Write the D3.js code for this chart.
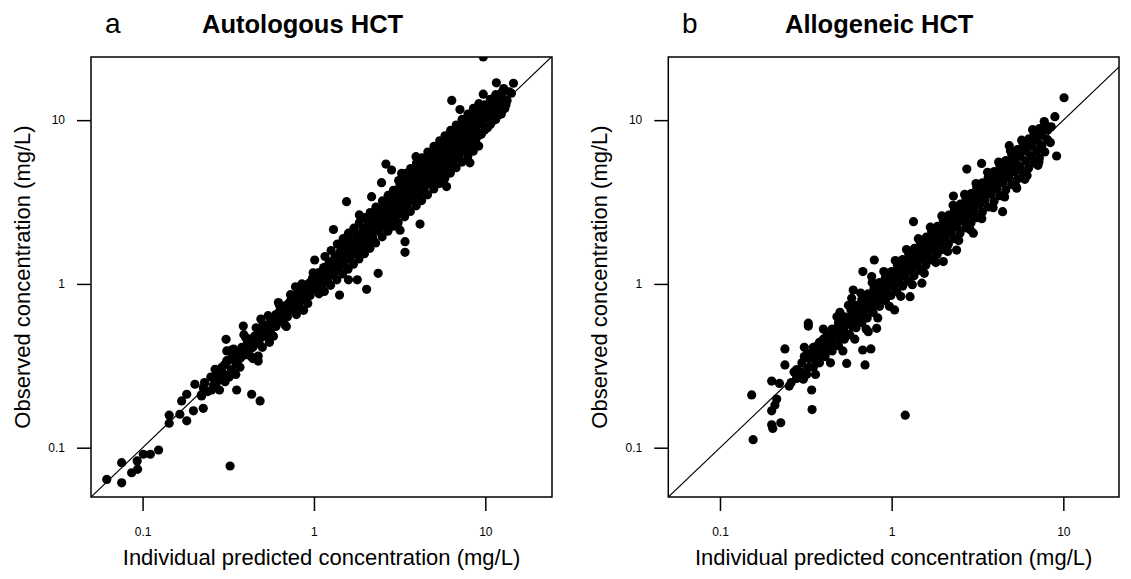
<!DOCTYPE html>
<html>
<head>
<meta charset="utf-8">
<script src="https://cdn.jsdelivr.net/npm/d3@7"></script>
<style>
  body { margin: 0; background: #fff; }
  svg { font-family: "Liberation Sans", Arial, Helvetica, sans-serif; }
</style>
</head>
<body>
<div id="chart"></div>
<script>
// ---- data: [individual predicted, observed] in mg/L ----
var autoBand = [
  [0.30,0.28],[0.30,0.32],[0.31,0.34],[0.33,0.30],[0.33,0.35],[0.34,0.37],
  [0.35,0.33],[0.36,0.38],[0.37,0.35],[0.38,0.36],[0.38,0.41],[0.39,0.39],
  [0.41,0.37],[0.41,0.44],[0.42,0.40],[0.43,0.46],[0.44,0.41],[0.45,0.48],
  [0.46,0.44],[0.48,0.43],[0.48,0.51],[0.49,0.47],[0.50,0.55],[0.52,0.48],
  [0.52,0.56],[0.53,0.51],[0.56,0.50],[0.56,0.60],[0.57,0.55],[0.58,0.62],
  [0.60,0.55],[0.60,0.65],[0.61,0.59],[0.63,0.68],[0.65,0.59],[0.65,0.70],
  [0.66,0.64],[0.67,0.73],[0.70,0.63],[0.70,0.75],[0.71,0.68],[0.73,0.79],
  [0.76,0.69],[0.76,0.81],[0.77,0.74],[0.79,0.86],[0.82,0.73],[0.82,0.88],
  [0.83,0.80],[0.85,0.93],[0.88,0.80],[0.88,0.94],[0.89,0.87],[0.91,0.99],
  [0.95,0.85],[0.95,1.02],[0.96,0.94],[0.98,1.08],[1.03,0.92],[1.03,1.10],
  [1.04,1.01],[1.06,1.17],[1.11,0.98],[1.11,1.19],[1.12,1.09],[1.14,1.26],
  [1.20,1.06],[1.20,1.29],[1.21,1.18],[1.23,1.36],[1.30,1.14],[1.30,1.39],
  [1.31,1.27],[1.33,1.48],[1.40,1.23],[1.40,1.50],[1.41,1.38],[1.43,1.59],
  [1.38,1.31],[1.50,1.32],[1.50,1.61],[1.51,1.48],[1.53,1.71],[1.48,1.41],
  [1.62,1.42],[1.62,1.74],[1.63,1.60],[1.65,1.86],[1.60,1.52],[1.75,1.53],
  [1.75,1.88],[1.76,1.73],[1.78,2.00],[1.73,1.65],[1.90,1.66],[1.90,2.04],
  [1.91,1.88],[1.93,2.18],[1.88,1.78],[2.05,1.79],[2.05,2.20],[2.06,2.03],
  [2.08,2.36],[2.03,1.93],[2.20,1.92],[2.20,2.37],[2.21,2.18],[2.23,2.54],
  [2.18,2.07],[2.24,2.65],[2.40,2.09],[2.40,2.59],[2.41,2.38],[2.43,2.77],
  [2.38,2.26],[2.44,2.89],[2.60,2.26],[2.60,2.81],[2.61,2.58],[2.63,3.00],
  [2.58,2.45],[2.64,3.13],[2.80,2.43],[2.80,3.03],[2.81,2.78],[2.83,3.24],
  [2.78,2.64],[2.84,3.37],[3.00,2.59],[3.00,3.25],[3.01,2.98],[3.03,3.48],
  [2.98,2.82],[3.04,3.63],[3.25,2.81],[3.25,3.53],[3.26,3.24],[3.28,3.78],
  [3.23,3.06],[3.29,3.95],[3.50,3.02],[3.50,3.81],[3.51,3.49],[3.53,4.08],
  [3.48,3.28],[3.54,4.25],[3.80,3.27],[3.80,4.14],[3.81,3.80],[3.83,4.44],
  [3.78,3.56],[3.84,4.63],[4.10,3.52],[4.10,4.47],[4.11,4.10],[4.13,4.80],
  [4.08,3.84],[4.14,5.01],[4.40,3.77],[4.40,4.81],[4.41,4.40],[4.43,5.16],
  [4.38,4.12],[4.44,5.39],[4.80,4.10],[4.80,5.25],[4.81,4.80],[4.83,5.64],
  [4.78,4.48],[4.84,5.90],[5.20,4.44],[5.20,5.69],[5.21,5.20],[5.23,6.12],
  [5.18,4.86],[5.24,6.40],[5.60,4.78],[5.60,6.13],[5.61,5.60],[5.63,6.60],
  [5.58,5.22],[5.64,6.90],[6.00,5.12],[6.00,6.57],[6.01,6.00],[6.03,7.08],
  [5.98,5.60],[6.04,7.40],[6.50,5.54],[6.50,7.13],[6.51,6.50],[6.53,7.68],
  [6.48,6.06],[6.54,8.00],[7.00,5.96],[7.00,7.69],[7.01,7.00],[7.03,8.28],
  [6.98,6.52],[7.60,6.48],[7.60,8.35],[7.61,7.60],[7.63,9.00],[7.58,7.08],
  [8.20,7.02],[8.20,9.01],[8.21,8.20],[8.23,9.72],[8.18,7.64],[8.80,7.58],
  [8.80,9.69],[8.81,8.80],[8.83,10.4],[9.50,8.22],[9.50,10.5],[9.51,9.50],
  [9.53,11.2],[10.3,8.98],[10.3,11.4],[10.3,10.3],[10.4,12.1],[11.1,9.9],
  [11.1,12.2],[11.2,11.1],[12.0,10.8],[12.0,13.0],[12.1,12.0]
];
// edges of the autologous cloud
var autoSpread = [
  [0.22,0.21],[0.23,0.25],[0.24,0.22],[0.25,0.27],[0.26,0.24],[0.27,0.29],
  [0.28,0.26],[0.29,0.31],[0.27,0.25],[0.32,0.27],[0.34,0.40],[0.37,0.31],
  [0.40,0.47],[0.43,0.36],[0.46,0.54],[0.50,0.41],[0.54,0.64],[0.58,0.48],
  [0.63,0.74],[0.68,0.56],[0.73,0.86],[0.79,0.65],[0.85,1.00],[0.92,0.76],
  [0.99,1.17],[1.07,0.87],[1.15,0.90],[1.16,1.47],[1.25,0.98],[1.26,1.60],
  [1.36,1.06],[1.37,1.75],[1.47,1.15],[1.48,1.89],[1.58,1.23],[1.59,2.04],
  [1.70,1.32],[1.71,2.19],[1.83,1.42],[1.84,2.36],[1.97,1.53],[1.98,2.54],
  [2.12,1.65],[2.13,2.73],[2.29,1.78],[2.30,2.95],[2.50,1.94],[2.51,3.21],
  [2.70,2.10],[2.71,3.47],[2.90,2.25],[2.91,3.73],[3.10,2.36],[3.12,4.28],
  [3.15,2.77],[3.17,3.96],[3.38,2.57],[3.40,4.69],[3.42,3.01],[3.44,4.30],
  [3.65,2.77],[3.67,5.06],[3.70,3.26],[3.72,4.65],[3.95,3.00],[3.97,5.48],
  [4.00,3.52],[4.02,5.03],[4.25,3.23],[4.27,5.89],[4.30,3.78],[4.32,5.40],
  [4.60,3.50],[4.62,6.38],[4.65,4.09],[4.67,5.84],[5.00,3.80],[5.02,6.93],
  [5.05,4.44],[5.07,6.34],[5.40,4.10],[5.42,7.48],[5.45,4.80],[5.47,6.84],
  [5.80,4.41],[5.82,8.03],[5.85,5.15],[5.87,7.34],[6.25,4.75],[6.27,8.65],
  [6.30,5.54],[6.32,7.90],[6.75,5.13],[6.77,9.34],[6.80,5.98],[6.82,8.53],
  [7.30,5.55],[7.32,10.1],[7.35,6.47],[7.37,9.21],[7.90,6.00],[7.92,10.9],
  [7.95,7.00],[7.97,9.96],[8.50,6.46],[8.52,11.8],[8.55,7.52],[8.57,10.7],
  [9.15,6.95],[9.17,12.6],[9.20,8.10],[9.22,11.5],[9.90,8.71],[9.92,12.4],
  [10.7,9.42],[10.7,13.4],[11.5,10.1],[11.5,14.3],[12.4,10.9],[12.5,13.8],
  [13.2,12.4],[13.8,14.9],
  [0.31,0.39],[0.35,0.28],[0.39,0.49],[0.44,0.35],[0.49,0.61],[0.55,0.44],
  [0.62,0.77],[0.69,0.55],[0.78,0.96],[0.87,0.69]
];
var autoOut = [
  [0.0618,0.064],[0.0755,0.061],[0.0755,0.081],[0.0863,0.0703],[0.0935,0.0738],
  [0.093,0.083],[0.101,0.0912],[0.111,0.0912],[0.124,0.0968],[0.324,0.0773],
  [0.143,0.141],[0.143,0.158],[0.165,0.16],[0.181,0.146],[0.169,0.193],
  [0.181,0.212],[0.198,0.168],[0.202,0.244],[0.226,0.174],[0.221,0.207],
  [0.226,0.232],[0.253,0.225],[0.281,0.225],[0.265,0.262],[0.265,0.301],
  [0.303,0.253],[0.354,0.225],[0.433,0.212],[0.485,0.193],[0.307,0.459],
  [0.387,0.553],[0.473,0.338],[0.473,0.363],[0.331,0.395],
  [1.30,2.15],[1.55,3.18],[2.17,3.41],[2.48,4.15],[2.63,5.39],[2.84,4.96],
  [3.25,4.73],[3.44,4.73],[3.94,5.98],[6.37,13.2],[7.11,11.6],[11.6,16.9],
  [14.6,16.8],[9.73,14.4],[9.73,24.3],[13.0,11.8],[8.13,5.49],[5.94,3.93],
  [4.16,2.32],[3.40,1.81],[3.40,1.56],[3.18,2.13],[2.37,1.16],[2.03,0.927],
  [1.59,1.06],[1.79,1.06],[1.41,0.855],[1.01,1.40],[1.84,2.64],
  [12.5,14.8],[11.8,13.6],[13.4,13.2],[12.8,15.6],[14.2,14.6]
];
var alloBand = [
  [0.28,0.27],[0.28,0.30],[0.30,0.29],[0.30,0.33],[0.31,0.36],[0.33,0.31],
  [0.33,0.35],[0.34,0.38],[0.36,0.34],[0.36,0.39],[0.37,0.42],[0.35,0.37],
  [0.39,0.37],[0.39,0.42],[0.40,0.46],[0.42,0.40],[0.42,0.45],[0.43,0.49],
  [0.41,0.43],[0.46,0.43],[0.46,0.49],[0.47,0.53],[0.45,0.47],[0.50,0.47],
  [0.50,0.53],[0.51,0.58],[0.49,0.51],[0.54,0.50],[0.54,0.57],[0.55,0.62],
  [0.53,0.55],[0.59,0.55],[0.59,0.62],[0.60,0.68],[0.58,0.60],[0.64,0.59],
  [0.64,0.68],[0.65,0.73],[0.63,0.65],[0.69,0.64],[0.69,0.74],[0.70,0.79],
  [0.68,0.70],[0.75,0.70],[0.75,0.80],[0.76,0.86],[0.74,0.76],[0.81,0.75],
  [0.81,0.86],[0.82,0.93],[0.80,0.82],[0.88,0.82],[0.88,0.94],[0.89,1.01],
  [0.87,0.89],[0.95,0.88],[0.95,1.01],[0.96,1.09],[0.94,0.97],[1.03,0.96],
  [1.03,1.10],[1.04,1.18],[1.02,1.05],[1.11,1.03],[1.11,1.19],[1.12,1.28],
  [1.10,1.13],[1.20,1.12],[1.20,1.29],[1.21,1.38],[1.19,1.22],[1.30,1.21],
  [1.30,1.40],[1.31,1.50],[1.29,1.33],[1.40,1.30],[1.40,1.50],[1.41,1.61],
  [1.39,1.43],[1.52,1.41],[1.52,1.63],[1.53,1.75],[1.51,1.55],[1.64,1.53],
  [1.64,1.76],[1.65,1.89],[1.63,1.67],[1.77,1.65],[1.77,1.90],[1.78,2.04],
  [1.76,1.80],[1.91,1.78],[1.91,2.05],[1.92,2.20],[1.90,1.95],[2.06,1.92],
  [2.06,2.21],[2.07,2.37],[2.05,2.10],[2.22,2.07],[2.22,2.38],[2.23,2.56],
  [2.21,2.26],[2.40,2.23],[2.40,2.58],[2.41,2.76],[2.39,2.45],[2.60,2.42],
  [2.60,2.79],[2.61,2.99],[2.59,2.65],[2.80,2.60],[2.80,3.01],[2.81,3.22],
  [2.79,2.86],[3.00,2.80],[3.00,3.22],[3.01,3.45],[2.99,3.06],[3.25,3.02],
  [3.25,3.49],[3.26,3.74],[3.24,3.32],[3.50,3.26],[3.50,3.76],[3.51,4.03],
  [3.49,3.57],[3.80,3.53],[3.80,4.08],[3.81,4.37],[3.79,3.88],[4.10,3.81],
  [4.10,4.40],[4.11,4.72],[4.09,4.18],[4.45,4.14],[4.45,4.78],[4.46,5.12],
  [4.44,4.54],[4.80,4.46],[4.80,5.15],[4.81,5.52],[4.79,4.90],[5.20,4.84],
  [5.20,5.58],[5.21,5.98],[5.19,5.30],[5.60,5.21],[5.60,6.01],[5.61,6.44],
  [6.05,5.63],[6.05,6.50],[6.06,6.96],[6.50,6.05],[6.50,6.98],[6.51,7.48],
  [7.00,6.51],[7.00,7.52],[7.01,8.05],[7.50,7.00],[7.50,8.10],[7.51,8.60],
  [8.10,7.60],[8.10,8.70]
];
// edges of the allogeneic cloud
var alloSpread = [
  [0.26,0.25],[0.27,0.29],[0.29,0.27],[0.32,0.28],[0.32,0.37],[0.35,0.31],
  [0.35,0.41],[0.38,0.33],[0.38,0.44],[0.41,0.36],[0.42,0.49],[0.45,0.39],
  [0.45,0.53],[0.49,0.42],[0.49,0.58],[0.53,0.46],[0.53,0.63],[0.57,0.49],
  [0.58,0.69],[0.62,0.54],[0.62,0.74],[0.67,0.58],[0.67,0.80],[0.72,0.62],
  [0.73,0.87],[0.78,0.67],[0.79,0.94],[0.85,0.73],[0.85,1.02],[0.92,0.79],
  [0.92,1.10],[0.99,0.85],[1.00,1.19],[1.07,0.90],[1.08,1.30],[1.16,0.97],
  [1.16,1.41],[1.25,1.04],[1.26,1.52],[1.35,1.12],[1.36,1.65],[1.46,1.21],
  [1.47,1.78],[1.58,1.30],[1.59,1.93],[1.70,1.40],[1.71,2.08],[1.84,1.51],
  [1.85,2.25],[1.98,1.62],[2.00,2.44],[2.14,1.75],[2.15,2.63],[2.31,1.89],
  [2.32,2.84],[2.50,2.04],[2.51,3.07],[2.70,2.20],[2.71,3.32],[2.90,2.36],
  [2.91,3.56],[3.12,2.54],[3.13,3.84],[3.37,2.74],[3.38,4.14],[3.64,2.95],
  [3.65,4.47],[3.95,3.20],[3.96,4.85],[4.27,3.46],[4.28,5.24],[4.62,3.74],
  [4.63,5.67],[5.00,4.05],[5.01,6.14],[5.40,4.37],[5.41,6.62],[5.82,4.71],
  [5.83,7.14],[6.27,5.08],[6.28,7.68],[6.75,5.47],[6.76,8.27],[7.25,5.87],
  [7.26,8.88],[7.80,6.40],[7.82,9.40],[8.40,7.30],[8.50,9.10],
  [0.31,0.41],[0.36,0.28],[0.40,0.53],[0.44,0.33],[0.48,0.63],[0.52,0.39],
  [0.56,0.74],[0.61,0.46],[0.66,0.88],[0.71,0.53],[0.77,1.02],[0.83,0.62],
  [0.90,1.19],[0.97,0.73],[1.05,1.39],[1.13,0.84],[1.22,1.62],[1.32,0.99],
  [1.43,1.89],[1.55,1.16],[1.68,2.22],[1.81,1.35],[1.96,2.60],[2.12,1.58],
  [2.28,3.02],[2.46,1.84],[2.66,3.52],[2.87,2.14],[3.10,4.10],[3.35,2.50],
  [3.62,4.80],[3.90,2.92],[4.20,5.55],[4.55,3.40],[4.92,6.50],[5.30,3.95],
  [5.72,7.55],[6.15,4.60],[6.62,8.75],[7.12,5.30]
];
var alloOut = [
  [0.156,0.112],[0.153,0.210],[0.200,0.138],[0.203,0.131],[0.226,0.142],
  [0.200,0.168],[0.209,0.182],[0.214,0.198],[0.200,0.255],[0.222,0.247],
  [0.253,0.238],[0.239,0.320],[0.239,0.401],[0.342,0.225],[0.344,0.171],
  [0.280,0.265],[0.306,0.262],[0.327,0.576],[0.327,0.553],[0.547,0.327],
  [0.70,0.32],[0.678,0.395],[0.757,0.401],[0.731,0.511],[0.818,0.536],
  [0.585,0.817],[0.597,0.918],[0.50,0.671],[1.04,0.694],[1.20,0.158],
  [10.1,13.7],[8.93,10.5],[9.14,6.04],[7.74,9.8],[7.21,5.57],[5.97,4.35],
  [5.35,3.84],[4.43,2.76],[4.84,6.98],[3.34,5.44],[2.74,5.03],[2.29,3.44],
  [1.34,2.40],[0.792,1.40],[2.39,1.61],[2.0,1.37],[1.50,1.01],[1.28,0.836],
  [2.99,2.04],[0.68,1.19],[0.765,1.11]
];
var tickValues = [0.1, 1, 10];
var tickLabels = ["0.1", "1", "10"];
var panelLetters = ["a", "b"];
var panelTitles = ["Autologous HCT", "Allogeneic HCT"];
var xLabel = "Individual predicted concentration (mg/L)";
var yLabel = "Observed concentration (mg/L)";

var width = 1131, height = 579;
var svg = d3.select("#chart").append("svg")
    .attr("width", width)
    .attr("height", height);
svg.append("rect").attr("width", width).attr("height", height).attr("fill", "#fff");

var panels = [
  { id: "pa", left: 91, top: 57, w: 461, h: 440, xMax: 24.5, yMax: 24.3,
    letterX: 105, titleX: 202, data: autoBand.concat(autoSpread, autoOut) },
  { id: "pb", left: 668.3, top: 57, w: 450.7, h: 440, xMax: 21.1, yMax: 24.3,
    letterX: 682, titleX: 785, data: alloBand.concat(alloSpread, alloOut) }
];

panels.forEach(function(p, idx) {
  var x = d3.scaleLog().domain([0.05, p.xMax]).range([0, p.w]);
  var y = d3.scaleLog().domain([0.05, p.yMax]).range([p.h, 0]);

  var g = svg.append("g").attr("transform", "translate(" + p.left + "," + p.top + ")");

  g.append("clipPath").attr("id", "clip-" + p.id)
    .append("rect").attr("width", p.w).attr("height", p.h);

  var plot = g.append("g").attr("clip-path", "url(#clip-" + p.id + ")");

  // identity line
  plot.append("line")
      .attr("x1", x(0.05)).attr("y1", y(0.05))
      .attr("x2", x(40)).attr("y2", y(40))
      .attr("stroke", "#000").attr("stroke-width", 1.2);

  plot.selectAll("circle")
      .data(p.data)
    .enter().append("circle")
      .attr("cx", function(d) { return x(d[0]); })
      .attr("cy", function(d) { return y(d[1]); })
      .attr("r", 4.6)
      .attr("fill", "#000");

  g.append("rect")
      .attr("width", p.w).attr("height", p.h)
      .attr("fill", "none").attr("stroke", "#000").attr("stroke-width", 1.5);

  var xAxis = d3.axisBottom(x).tickValues(tickValues)
      .tickFormat(function(d, i) { return tickLabels[i]; })
      .tickSize(14).tickPadding(16);
  var gx = g.append("g").attr("transform", "translate(0," + p.h + ")").call(xAxis);
  gx.select(".domain").remove();

  var yAxis = d3.axisLeft(y).tickValues(tickValues)
      .tickFormat(function(d, i) { return tickLabels[i]; })
      .tickSize(14).tickPadding(12);
  var gy = g.append("g").call(yAxis);
  gy.select(".domain").remove();

  [gx, gy].forEach(function(ax) {
    ax.selectAll("line").attr("stroke", "#000").attr("stroke-width", 1.5);
    ax.selectAll("text").attr("fill", "#000")
      .style("font-size", "12px")
      .style("font-family", "'Liberation Sans', Arial, sans-serif");
  });

  g.append("text")
      .attr("x", p.w / 2).attr("y", p.h + 68)
      .attr("text-anchor", "middle")
      .style("font-size", "22px")
      .text(xLabel);

  g.append("text")
      .attr("transform", "translate(" + (30 - 91) + "," + (p.h / 2) + ") rotate(-90)")
      .attr("text-anchor", "middle")
      .style("font-size", "22px")
      .text(yLabel);

  svg.append("text")
      .attr("x", p.letterX).attr("y", 33)
      .style("font-size", "28px")
      .text(panelLetters[idx]);

  svg.append("text")
      .attr("x", p.titleX).attr("y", 33)
      .style("font-size", "25.5px")
      .style("font-weight", "bold")
      .text(panelTitles[idx]);
});
</script>
</body>
</html>
